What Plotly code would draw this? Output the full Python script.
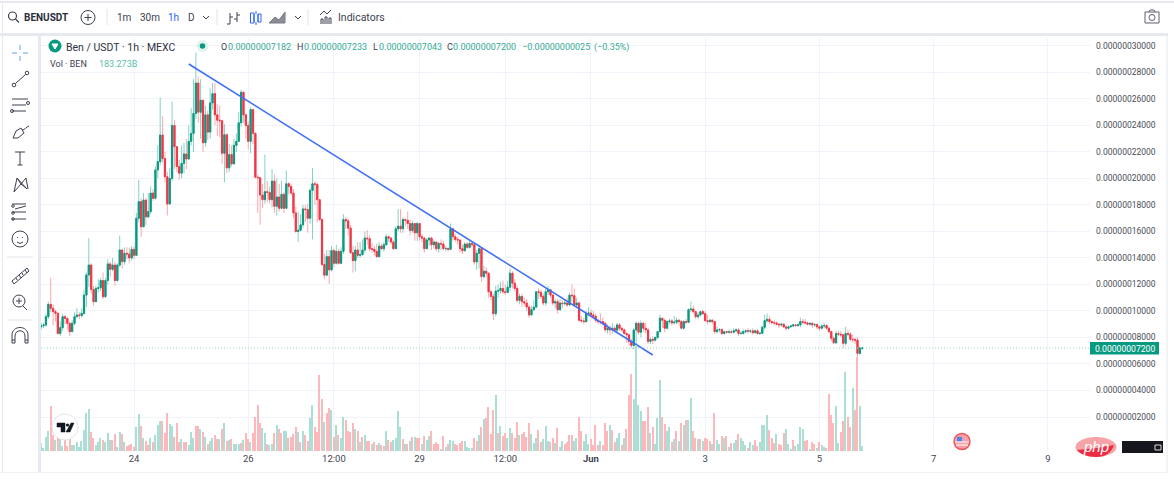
import pandas as pd
import plotly.graph_objects as go

# Hourly candles, prices in units of 1e-8 USDT
closes = [
 8.89,8.94,9.57,10.5,10.2,9.95,9.82,8.31,8.74,9.57,
 9.44,9.07,8.44,9.07,9.57,9.7,9.65,9.82,11.2,12.72,
 13.47,11.63,10.7,11.7,11.75,12.3,11.08,12.3,13.55,13.14,
 13.47,12.3,13.47,14.6,13.72,14.35,14.3,14.0,14.65,14.2,
 17.0,18.25,16.36,18.37,17.1,17.5,18.9,18.5,20.64,21.27,
 23.28,21.5,20.13,18.07,20.0,24.0,22.4,20.9,20.4,21.14,
 21.85,21.47,22.8,23.4,24.9,27.2,25.0,25.9,22.7,24.8,
 23.5,25.7,26.4,24.8,24.4,24.35,21.9,23.3,20.8,21.8,
 21.1,22.5,22.8,24.2,26.5,24.8,24.0,22.8,25.2,23.4,
 20.1,20.05,18.75,18.4,19.0,18.95,18.4,19.8,17.9,18.6,
 17.75,18.8,17.75,19.6,19.4,18.9,17.4,16.0,16.1,16.5,
 17.7,17.65,17.0,19.1,19.6,19.55,18.4,16.9,13.5,12.7,
 14.1,13.1,14.56,13.6,14.5,13.6,14.5,16.9,16.8,16.25,
 14.4,13.8,14.6,14.2,14.25,14.6,15.5,15.45,14.7,14.65,
 14.5,14.1,14.9,14.7,15.0,15.6,15.5,15.2,14.7,16.2,
 16.4,16.2,16.9,16.85,16.6,16.07,16.6,15.9,16.6,15.6,
 15.5,14.7,15.36,15.5,15.0,15.2,14.7,15.1,15.05,14.7,
 14.72,14.65,16.2,15.6,15.4,15.35,14.7,14.55,15.05,14.8,
 15.1,15.0,13.7,14.35,14.7,12.6,13.0,12.85,11.45,11.1,
 9.8,11.5,11.55,11.7,11.45,11.4,11.8,12.85,12.1,11.7,
 10.8,11.1,10.7,10.6,10.3,9.7,10.1,10.3,11.45,11.4,
 11.1,10.6,11.45,11.6,11.2,10.6,10.7,10.1,10.6,10.55,
 10.6,10.45,11.2,11.15,10.45,10.6,9.3,9.25,9.2,9.8,
 9.85,9.7,9.6,9.3,9.2,9.2,9.07,8.57,8.7,8.57,
 8.7,8.55,8.95,8.7,8.57,8.3,8.2,7.7,7.4,8.57,
 9.07,8.4,9.07,8.7,8.57,7.7,7.86,7.8,8.0,8.44,
 9.45,9.3,8.7,9.2,9.25,9.1,9.15,9.3,9.2,8.7,
 9.2,9.15,10.1,10.15,9.95,9.57,9.7,9.95,9.8,9.27,
 9.2,9.3,9.2,8.44,8.57,8.6,8.3,8.44,8.4,8.42,
 8.4,8.5,8.57,8.3,8.32,8.44,8.5,8.48,8.5,8.37,
 8.5,8.3,8.32,8.77,9.27,9.37,9.2,9.12,9.1,9.0,
 8.95,9.0,8.8,8.7,8.8,8.87,8.95,8.9,8.95,9.2,
 9.15,9.1,9.0,9.07,8.95,8.97,8.8,8.7,8.87,8.9,
 8.7,8.44,7.94,7.6,8.3,8.25,8.2,7.56,8.3,8.25,
 7.86,7.84,7.8,6.8,7.225,7.2,
]
highs = [
 9.1,9.1,9.8,10.7,12.5,10.5,10.1,9.9,9.2,9.8,
 9.7,9.5,9.2,9.3,9.9,10.2,9.9,10.2,11.6,12.9,
 15.5,13.6,11.9,11.9,12.4,12.5,12.9,12.5,13.9,13.7,
 14.0,13.7,13.6,15.7,14.7,14.8,14.8,14.8,14.9,14.9,
 17.4,19.9,18.5,18.9,18.5,18.9,19.4,19.2,20.9,22.5,
 26.1,24.7,22.0,20.5,20.8,25.8,24.4,22.3,21.4,22.5,
 22.7,23.0,24.0,25.3,27.5,29.5,27.7,27.5,25.5,25.5,
 25.1,26.8,27.2,27.2,25.6,25.5,24.4,24.1,23.4,22.6,
 22.5,23.0,23.4,25.0,26.7,26.6,24.9,24.3,25.4,25.1,
 23.5,20.3,20.0,19.6,21.8,19.8,19.4,20.7,20.3,20.0,
 19.6,19.8,19.0,20.6,19.7,19.6,19.2,17.9,17.5,17.3,
 18.0,18.0,18.1,19.3,20.8,19.8,19.7,18.4,17.0,14.3,
 14.6,14.6,14.9,14.7,15.0,14.7,14.8,17.3,17.1,17.0,
 16.5,14.9,14.9,15.2,15.2,15.4,16.0,16.1,15.7,15.1,
 14.9,15.1,15.2,15.1,15.2,15.8,15.7,15.6,15.3,16.4,
 17.7,17.7,17.1,17.0,17.5,16.9,16.8,16.6,16.7,16.6,
 15.8,15.6,15.5,15.6,15.6,15.4,15.3,15.2,15.4,15.3,
 14.9,14.8,16.6,16.3,15.8,15.6,15.4,15.0,15.2,15.2,
 15.3,15.2,15.1,14.6,15.0,14.8,13.4,13.3,12.9,11.6,
 11.3,11.9,12.0,12.2,12.3,12.0,12.3,13.2,13.0,12.4,
 11.9,11.3,11.3,11.0,10.9,10.5,10.4,10.8,11.5,11.7,
 11.6,11.3,11.7,11.9,11.6,11.3,10.9,10.9,10.9,10.8,
 10.9,11.0,11.4,12.0,11.7,11.0,10.7,9.6,9.5,10.0,
 10.3,10.1,10.0,9.8,9.4,9.8,9.5,9.2,9.0,8.9,
 9.1,8.9,9.1,9.1,8.8,8.7,8.4,8.2,7.9,8.7,
 9.2,9.2,9.3,9.2,9.1,8.7,8.0,8.1,8.1,8.5,
 9.7,9.5,9.4,9.3,9.4,9.4,9.6,9.5,9.4,9.3,
 9.3,9.4,10.2,10.7,10.4,10.0,9.9,10.0,10.1,10.0,
 9.7,9.4,9.4,9.2,8.8,8.7,8.7,8.5,8.5,8.6,
 8.6,8.7,8.7,8.7,8.5,8.6,8.6,8.7,8.6,8.7,
 8.6,8.6,8.4,8.9,9.7,9.8,9.6,9.3,9.3,9.2,
 9.1,9.1,9.1,8.9,8.9,8.9,9.0,9.0,9.1,9.5,
 9.4,9.4,9.2,9.1,9.2,9.1,9.1,8.9,9.0,9.1,
 9.0,8.8,8.5,8.1,8.5,8.5,8.5,8.3,8.8,8.6,
 8.4,8.2,8.0,8.0,7.3,7.233,
]
lows = [
 8.6,8.7,8.8,9.4,9.9,8.9,9.2,8.2,8.1,8.5,
 9.0,8.6,8.1,8.4,8.9,9.5,9.4,9.5,9.7,10.3,
 11.8,11.3,10.4,10.7,11.4,11.5,10.9,11.0,12.0,12.6,
 13.0,11.9,12.2,13.3,13.2,13.5,13.9,13.6,13.8,13.9,
 14.2,16.7,15.6,16.3,16.5,17.0,17.3,18.3,18.4,20.0,
 21.0,21.2,19.7,17.2,18.3,19.8,20.7,20.5,19.9,20.0,
 20.4,20.7,21.5,22.5,22.0,24.5,24.2,23.0,22.0,22.4,
 22.9,23.0,25.2,24.0,23.2,23.1,21.1,19.7,20.4,20.5,
 20.9,21.3,22.0,23.3,23.9,24.2,23.0,22.2,21.9,22.6,
 20.0,17.4,16.5,17.8,18.1,18.2,18.1,17.8,17.4,17.2,
 17.5,17.7,17.4,18.4,18.8,18.7,17.0,15.9,15.2,16.0,
 16.3,16.7,15.9,16.6,15.4,18.0,16.7,16.8,13.4,12.4,
 12.9,12.05,13.0,13.3,13.5,13.5,14.0,14.3,16.2,15.7,
 14.3,12.9,13.0,14.0,14.0,14.2,14.4,15.0,14.5,14.4,
 14.2,14.0,14.1,14.6,14.5,14.9,15.2,15.0,14.6,14.7,
 16.0,15.9,15.9,16.4,16.2,15.7,15.9,15.3,15.3,15.3,
 15.2,14.4,14.7,14.9,14.6,14.7,14.5,14.4,14.6,14.6,
 14.5,14.5,14.6,15.3,15.2,15.0,14.4,14.3,14.5,14.7,
 14.7,14.8,13.5,13.1,13.2,12.2,12.4,12.5,11.0,10.8,
 9.3,9.6,11.0,11.3,11.3,11.2,11.4,11.5,11.7,11.5,
 10.6,10.5,10.3,10.4,10.0,9.5,9.7,10.0,10.2,10.9,
 10.9,10.4,10.4,11.2,11.0,10.4,10.2,9.8,10.0,10.2,
 10.4,10.3,10.4,10.7,10.3,10.3,9.2,9.1,9.0,9.1,
 9.6,9.5,9.4,9.1,9.0,9.0,8.9,8.4,8.3,8.2,
 8.3,8.4,8.4,8.5,8.4,8.2,7.6,7.4,7.2,7.1,
 6.0,8.2,8.0,8.4,8.3,7.5,7.5,7.5,7.7,7.9,
 8.4,8.7,8.4,8.6,9.0,8.9,9.0,9.0,8.9,8.6,
 8.6,9.0,9.1,9.9,9.8,9.4,9.4,9.6,9.7,9.2,
 9.0,9.1,9.0,8.3,8.3,8.4,8.2,8.2,8.3,8.3,
 8.3,8.3,8.4,8.1,8.2,8.2,8.3,8.3,8.3,8.2,
 8.3,8.2,8.2,8.3,8.6,9.1,9.0,9.0,8.9,8.9,
 8.7,8.8,8.7,8.5,8.6,8.8,8.8,8.8,8.8,8.8,
 9.0,9.0,8.9,8.9,8.7,8.8,8.6,8.5,8.6,8.7,
 8.6,8.3,7.7,7.5,7.5,8.1,8.0,7.2,7.4,8.1,
 7.7,7.6,7.5,5.8,6.7,7.043,
]
first_open = 8.8
last_open = 7.182

# Volume in billions (B) with candle side: g = up, r = down
volumes = [
 320,120,560,800,1800,640,440,520,480,200,
 480,200,520,240,240,360,160,400,840,1520,
 1680,760,520,240,360,520,440,360,720,440,
 440,680,160,760,680,360,200,240,280,160,
 960,1480,1000,520,400,240,520,360,640,1040,
 1200,1200,720,1520,1080,1000,560,1120,360,480,
 360,360,240,760,520,1000,1000,880,760,560,
 280,400,520,640,480,480,880,1120,400,440,
 480,280,280,280,320,440,720,480,360,720,
 1360,1840,1120,920,720,280,240,280,720,1040,
 880,720,800,800,520,560,680,960,760,360,
 800,640,400,1320,1840,960,760,3040,2080,1160,
 1520,1720,1640,560,1040,640,520,1360,1240,800,
 760,1120,880,800,360,560,640,400,400,280,
 360,240,320,240,200,800,440,360,440,520,
 1600,960,480,280,280,400,560,560,520,520,
 280,600,440,600,800,280,360,280,80,600,
 160,280,440,400,280,240,320,400,400,160,
 120,120,520,400,640,960,1280,1320,1760,680,
 1640,2240,720,1000,600,720,520,920,720,520,
 1160,640,680,760,560,1120,680,320,520,840,
 360,480,1000,400,360,520,320,920,160,400,
 280,360,640,640,400,520,1360,800,400,680,
 280,480,240,1040,240,400,240,1120,800,1040,
 840,360,520,720,240,520,880,2240,3080,2080,
 4240,1840,1600,1200,1200,1760,720,960,280,1320,
 2840,1360,1080,800,960,360,480,800,400,1120,
 1040,1240,1240,2120,800,520,480,480,400,520,
 480,400,280,1520,440,280,600,520,600,160,
 320,320,440,680,520,400,240,120,360,240,
 440,200,360,1040,1040,1440,840,520,320,680,
 280,240,720,880,280,80,440,200,280,960,
 880,400,440,80,360,280,120,360,240,160,
 120,2280,1440,1120,1800,320,760,1200,3160,1360,
 960,2520,1640,3760,1800,183.273,
]
volume_sides = (
 "ggggrrgrgg" "rrrggggggg" "grrgggrggg" "rrggrgrrrr" "ggrgrrgrgg"
 "grrrggrrrg" "rrgggrrgrg" "rggrrgrgrg" "rgggrgrrgr" "rrrggrggrg"
 "rrggrrrrgr" "grrggrrrrg" "rrgrgrggrr" "rrgrgrgrrg" "rrgrrgrrgg"
 "ggrgrgrgrr" "grggrrrrgr" "grggrrrrgg" "ggrrgrgrrr" "rgrgrrggrr"
 "rgrrrrgggr" "rgggrrgrgg" "rrrrggrrgg" "grrrrgrrrg" "rrggrgrrrg"
 "gggrrrgrgg" "grrggrgrgr" "grggrrgrgr" "rrgrggrgrg" "rggrgggrgg"
 "rrggggrrrg" "rrrgggrggg" "grrgrrgrgg" "rrrrggrrgr" "rgrrgg"
)

first_bar = "2023-05-22 09:00"
x_range = ["2023-05-22 08:55", "2023-06-09 17:42"]

y_tick_values = [2, 4, 6, 8, 10, 12, 14, 16, 18, 20, 22, 24, 26, 28, 30]
y_tick_labels = ["0.00000002000", "0.00000004000", "0.00000006000", "0.00000008000", "0.00000010000",
                 "0.00000012000", "0.00000014000", "0.00000016000", "0.00000018000", "0.00000020000",
                 "0.00000022000", "0.00000024000", "0.00000026000", "0.00000028000", "0.00000030000"]
x_tick_values = ["2023-05-24", "2023-05-26", "2023-05-27 12:00", "2023-05-29", "2023-05-30 12:00",
                 "2023-06-01", "2023-06-03", "2023-06-05", "2023-06-07", "2023-06-09"]
x_tick_labels = ["24", "26", "12:00", "29", "12:00", "<b>Jun</b>", "3", "5", "7", "9"]

trend_x = ["2023-05-24 23:00", "2023-06-02 02:00"]
trend_y = [28.64, 6.68]
last_price = 7.2

W, H = 1174, 480
TEXT = "#3d4150"
GREEN, RED = "#089981", "#f23645"

times = pd.date_range(first_bar, periods=len(closes), freq="h")
opens = [first_open] + closes[:-1]
opens[-1] = last_open
body_hi = [max(o, c) for o, c in zip(opens, closes)]
body_lo = [min(o, c) for o, c in zip(opens, closes)]
wick_hi = [max(h, b) for h, b in zip(highs, body_hi)]
wick_lo = [min(l, b) for l, b in zip(lows, body_lo)]
vol_colors = ["#abdfd6" if s == "g" else "#fdb8bc" for s in volume_sides]

fig = go.Figure()
fig.add_trace(go.Bar(x=times, y=volumes, yaxis="y2", marker=dict(color=vol_colors, line_width=0),
                     width=0.6 * 3600000, hoverinfo="skip", showlegend=False))
fig.add_trace(go.Candlestick(x=times, open=opens, high=wick_hi, low=wick_lo, close=closes, whiskerwidth=0,
                             increasing=dict(line=dict(color="#86d0c2", width=1), fillcolor="#86d0c2"),
                             decreasing=dict(line=dict(color="#f8a8ae", width=1), fillcolor="#f8a8ae"),
                             hoverinfo="skip", showlegend=False))
fig.add_trace(go.Candlestick(x=times, open=opens, high=body_hi, low=body_lo, close=closes, whiskerwidth=0,
                             increasing=dict(line=dict(color=GREEN, width=1), fillcolor=GREEN),
                             decreasing=dict(line=dict(color=RED, width=1), fillcolor=RED),
                             hoverinfo="skip", showlegend=False))
fig.add_trace(go.Scatter(x=trend_x, y=trend_y, mode="lines", line=dict(color="#3f6ff5", width=1.6),
                         hoverinfo="skip", showlegend=False))
# empty trace that holds the pixel-sized overlay axes for the chart furniture
fig.add_trace(go.Scatter(x=[0], y=[0], xaxis="x3", yaxis="y3", mode="markers", marker_opacity=0,
                         hoverinfo="skip", showlegend=False))

shapes, notes = [], []


def rect(x0, y0, x1, y1, fill, line=None, layer="above"):
    shapes.append(dict(type="rect", xref="x3", yref="y3", x0=x0, y0=y0, x1=x1, y1=y1, fillcolor=fill,
                       line=dict(width=0 if line is None else 1, color=line or fill), layer=layer))


def circ(cx, cy, r, fill="rgba(0,0,0,0)", line=None, w=1, ry=None):
    ry = r if ry is None else ry
    shapes.append(dict(type="circle", xref="x3", yref="y3", x0=cx - r, y0=cy - ry, x1=cx + r, y1=cy + ry,
                       fillcolor=fill, line=dict(width=w if line else 0, color=line or fill), layer="above"))


def path(d, color=TEXT, w=1, fill=None):
    shapes.append(dict(type="path", xref="x3", yref="y3", path=d, fillcolor=fill or "rgba(0,0,0,0)",
                       line=dict(color=color, width=w), layer="above"))


def text(x, y, s, size=10, color=TEXT, anchor="left", family="Roboto"):
    notes.append(dict(xref="x3", yref="y3", x=x, y=y, text=s, showarrow=False, xanchor=anchor, yanchor="middle",
                      font=dict(size=size, color=color, family=family), borderpad=0))


# panel frame
for box in [(0, 1, 1174, 3), (0, 33, 1168, 36), (38, 33, 41, 472), (1166.5, 36, 1167.5, 472), (2, 3, 3, 472)]:
    rect(*box, "#e6e9f0")
rect(0, 472, 1168, 473, "#f0f1f5")

# last price line and label
shapes.append(dict(type="line", xref="x3", yref="y", x0=41, x1=1090, y0=last_price, y1=last_price,
                   line=dict(color="#8fd5c8", width=1, dash="1px,2px"), layer="above"))
rect(1090, 342, 1159, 354.5, GREEN)
text(1124.5, 348.5, "0.00000007200", 8.6, "#ffffff", "center")

# top toolbar
circ(12.5, 16, 4, line=TEXT, w=1.2)
path("M15.5,19 L19,22.5", w=1.2)
text(23, 17, "<b>BENUSDT</b>", 10, "#2a2e39")
circ(88, 17.5, 7, line=TEXT, w=1)
path("M84.5,17.5 H91.5 M88,14 V21")
path("M107,9 V25 M217,9 V25 M308,9 V25", "#e0e3eb")
text(116, 17, "1m", 10)
text(139, 17, "30m", 10)
text(167, 17, "1h", 10, "#2962ff")
text(187, 17, "D", 10)
path("M203,16 L206,19 L209,16 M295,16 L298,19 L301,16")
path("M230,13 V24 M227,24 H230 M230,17 H233 M237,12 V22 M234,19 H237 M237,15 H240")
path("M254,14 V22 M258,14 V22 M256,11 V14 M256,22 V25", "#2962ff")
rect(250.5, 13, 254, 23, "rgba(0,0,0,0)", "#2962ff")
rect(258, 14, 261, 22, "rgba(0,0,0,0)", "#2962ff")
path("M269,23 L275,17 L279,20 L285,12 V23 Z", "#787b86", 1, "#8a8d96")
path("M320,23 H332 M321,22 V19 H323 V22 M325,22 V17 H327 V22 M329,22 V18 H331 V22 M320,15 L324,11 L327,14 L331,10")
text(337, 17, "Indicators", 10.5)
rect(1145, 12, 1159, 23, "rgba(0,0,0,0)", "#5d606b")
circ(1152, 17.5, 3, line="#5d606b")
path("M1149,12 L1150,10 H1154 L1155,12", "#5d606b")

# left toolbar
path("M12,53 H17 M23,53 H28 M20,45 V50 M20,56 V61", "#6f9bf6")
circ(14, 85, 1.8, line=TEXT)
circ(27, 73, 1.8, line=TEXT)
path("M15.5,83.5 L25.5,74.5")
path("M12,99 H28 M12,105 H26 M12,111 H26", TEXT)
circ(28, 103, 1.5, line=TEXT)
circ(12, 111, 1.5, line=TEXT)
path("M13,138 L16,131 L21,128 L24,133 L18,138 Z M22,130 C25,130 26,127 29,126")
path("M15,152 H25 M20,152 V165 M17.5,165 H22.5")
path("M14,192 L17,178 L27,189 M17,178 L21,184 L26,178 L28,189 M14,192 L21,184 L27,189")
path("M12,204 H26 M12,212 H26 M12,219 H26 M15,209 L26,206")
circ(13, 206, 1.3, line=TEXT)
circ(13, 213, 1.3, line=TEXT)
circ(13, 219, 1.3, line=TEXT)
circ(20, 239, 8, line=TEXT)
circ(17.5, 237.5, 0.6, TEXT)
circ(22.5, 237.5, 0.6, TEXT)
path("M17,242 Q20,245 23,242")
path("M7,257 H33", "#e0e3eb")
path("M12,281 L27,268 L29,271 L14,284 Z M16,278 L17,280 M19,275 L21,278 M22,273 L23,275 M25,270 L27,273")
circ(19, 301, 6, line=TEXT)
path("M23,306 L27,310 M19,298 V304 M16,301 H22")
path("M7,320 H33", "#e0e3eb")
path("M15,343 V336 C15,329 25,329 25,336 V343 H28 V335 C28,325 12,325 12,335 V343 Z M12,340 H15 M25,340 H28")

# legend
circ(55, 46, 6.5, "#089981")
path("M52,44 H58 L55,49 Z", "#ffffff", 1, "#ffffff")
text(65, 47, "Ben / USDT · 1h · MEXC", 10.5, "#2f3340")
circ(202.5, 46, 6, "#dff3ef")
circ(202.5, 46, 2.8, GREEN)
text(220, 47, "O", 9, "#3d4150")
text(227, 47, "0.00000007182", 9, "#35ab96")
text(296, 47, "H", 9, "#3d4150")
text(303, 47, "0.00000007233", 9, "#35ab96")
text(372, 47, "L", 9, "#3d4150")
text(378, 47, "0.00000007043", 9, "#35ab96")
text(446, 47, "C", 9, "#3d4150")
text(452, 47, "0.00000007200", 9, "#35ab96")
text(521, 47, "−0.00000000025", 9, "#35ab96")
text(593, 47, "(−0.35%)", 9, "#35ab96")
text(49, 63.5, "Vol · BEN", 9, "#3d4150")
text(98, 63.5, "183.273B", 9, "#5cbcab")

# TradingView badge
circ(65, 427, 13, "#ffffff", "#e3e5ea", 1)
path("M57,423 H65 V432 H61 V427 H57 Z", "#131722", 0.5, "#131722")
circ(67.5, 425, 1.6, "#131722")
path("M71,423 H74 L70,432 H66 Z", "#131722", 0.5, "#131722")

# economic event flag
circ(962, 441.5, 8, "#f7a0a5", "#f0525e", 1.4)
rect(957, 437, 962, 441.5, "#4a84ee")
path("M955,442 H969 M956,445 H968", "#ffffff", 1.2)

# watermark
circ(1096, 447, 20.5, "#f5a3a6", None, 0, ry=10)
path("M1077,450 Q1095,449 1114,445 Q1110,457 1096,457 Q1083,457 1077,450 Z", "#ee2b42", 0, "#ee2b42")
text(1096, 446.5, "<i>php</i>", 15, "#ffffff", "center", "Liberation Sans")
rect(1122, 441, 1163, 453, "#16161f")
path("M1155,445 H1161 V450 H1155 Z", "#d8d8d8", 1)

fig.update_layout(
    width=W, height=H, autosize=False, margin=dict(l=0, r=0, t=0, b=0),
    paper_bgcolor="#ffffff", plot_bgcolor="rgba(0,0,0,0)", showlegend=False, bargap=0,
    font=dict(family="Roboto", color=TEXT), shapes=shapes, annotations=notes, hovermode=False,
    xaxis=dict(domain=[41 / W, 1090 / W], range=x_range, type="date", rangeslider_visible=False,
               tickmode="array", tickvals=x_tick_values, ticktext=x_tick_labels,
               tickfont=dict(size=9.5, color="#434651"), ticks="", showgrid=True, gridcolor="#f0f3fa",
               gridwidth=1, zeroline=False, showline=False, anchor="y"),
    yaxis=dict(domain=[(H - 451) / H, (H - 38) / H], range=[-0.566, 30.6], side="right", anchor="x",
               tickmode="array", tickvals=y_tick_values, ticktext=y_tick_labels, ticklabelstandoff=5,
               tickfont=dict(size=8.5, color="#4a4d58"), ticks="", showgrid=True, gridcolor="#f0f3fa",
               gridwidth=1, zeroline=False, showline=False),
    yaxis2=dict(domain=[(H - 451) / H, (H - 38) / H], overlaying="y", range=[0, 16520], visible=False,
                fixedrange=True),
    xaxis3=dict(domain=[0, 1], range=[0, W], visible=False, anchor="y3", fixedrange=True),
    yaxis3=dict(domain=[0, 1], range=[H, 0], visible=False, anchor="x3", fixedrange=True),
)

print(len(closes), len(highs), len(lows), len(volumes), len(volume_sides))
fig.write_html("out.html", config=dict(displayModeBar=False, responsive=False),
               post_script="document.body.style.margin='0';document.body.style.overflow='hidden';")
